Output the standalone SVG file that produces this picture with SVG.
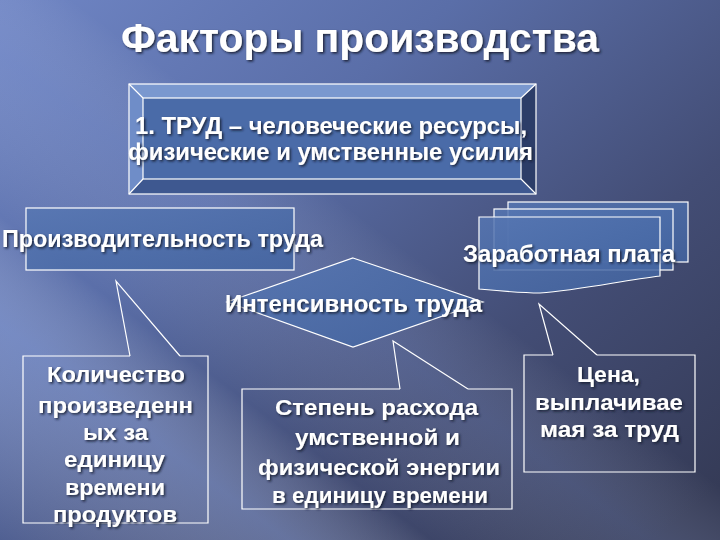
<svg xmlns="http://www.w3.org/2000/svg" width="720" height="540" viewBox="0 0 720 540">
<defs>
<linearGradient id="bg" x1="0" y1="0" x2="1" y2="0.9">
<stop offset="0" stop-color="#6f85c4"/>
<stop offset="0.35" stop-color="#5a6ea8"/>
<stop offset="0.7" stop-color="#434d75"/>
<stop offset="1" stop-color="#353b57"/>
</linearGradient>
<linearGradient id="streak" x1="0" y1="1" x2="1" y2="0">
<stop offset="0" stop-color="#ffffff" stop-opacity="0"/>
<stop offset="0.2" stop-color="#a8bdf0" stop-opacity="0.35"/>
<stop offset="0.3" stop-color="#ffffff" stop-opacity="0"/>
<stop offset="0.45" stop-color="#9fb3e8" stop-opacity="0.18"/>
<stop offset="0.55" stop-color="#ffffff" stop-opacity="0"/>
</linearGradient>
<linearGradient id="boxfill" x1="0" y1="0" x2="1" y2="1">
<stop offset="0" stop-color="#5676b2"/>
<stop offset="1" stop-color="#4264a0"/>
</linearGradient>
<filter id="sh" x="-5%" y="-20%" width="110%" height="140%">
<feDropShadow dx="1.5" dy="1.5" stdDeviation="0.8" flood-color="#141a30" flood-opacity="0.9"/>
</filter>
<style>
.t{font-family:"Liberation Sans",Arial,sans-serif;font-weight:bold;fill:#ffffff;text-anchor:middle;filter:url(#sh)}
.c{font-size:21.5px}
.ln{fill:none;stroke:#ffffff;stroke-width:1.2}
.bx{fill:url(#boxfill);fill-opacity:0.85;stroke:#ffffff;stroke-width:1.2}
</style>
</defs>
<rect width="720" height="540" fill="url(#bg)"/>
<rect width="720" height="540" fill="url(#streak)"/>

<text class="t" x="360" y="52" font-size="41" textLength="478" lengthAdjust="spacingAndGlyphs">Факторы производства</text>

<g id="node-trud">
<polygon points="129,84 536,84 521,98 143,98" fill="#7a98cf"/>
<polygon points="129,84 143,98 143,179 129,194" fill="#6f8dc8"/>
<polygon points="536,84 536,194 521,179 521,98" fill="#2c3d68"/>
<polygon points="129,194 143,179 521,179 536,194" fill="#3e5890"/>
<rect x="143" y="98" width="378" height="81" fill="#4a6ba8"/>
<rect class="ln" x="129" y="84" width="407" height="110"/>
<rect class="ln" x="143" y="98" width="378" height="81"/>
<path class="ln" d="M129,84 L143,98 M536,84 L521,98 M129,194 L143,179 M536,194 L521,179" stroke-width="0.8"/>
<text class="t" x="331" y="134" font-size="23" textLength="392" lengthAdjust="spacingAndGlyphs">1. ТРУД – человеческие ресурсы,</text>
<text class="t" x="330.5" y="160" font-size="23" textLength="405" lengthAdjust="spacingAndGlyphs">физические и умственные усилия</text>
</g>

<g id="node-productivity">
<rect class="bx" x="26" y="208" width="268" height="62"/>
<text class="t" x="162.5" y="247" font-size="23.5" textLength="321" lengthAdjust="spacingAndGlyphs">Производительность труда</text>
</g>

<g id="node-wage">
<rect class="bx" x="508" y="202" width="180" height="60"/>
<rect class="bx" x="494" y="209" width="179" height="61"/>
<path class="bx" d="M479,217 H660 V276 C620,281 580,290 540,293 C520,293 500,291 479,289 Z"/>
<text class="t" x="569" y="262" font-size="23.5" textLength="212" lengthAdjust="spacingAndGlyphs">Заработная плата</text>
</g>

<g id="node-intensity">
<polygon class="bx" points="353,258 483,302 353,347 227,302"/>
<text class="t" x="353.5" y="312" font-size="23.5" textLength="257" lengthAdjust="spacingAndGlyphs">Интенсивность труда</text>
</g>

<g id="connectors">
<polyline class="ln" points="130,356 116,281 180,356"/>
<polyline class="ln" points="400,389 393,341 468,389"/>
<polyline class="ln" points="553,355 539,304 597,355"/>
</g>

<g id="node-quantity">
<path class="ln" d="M130,356 H23 V523 H208 V356 H180"/>
<text class="t c" x="116" y="382" textLength="138" lengthAdjust="spacingAndGlyphs">Количество</text>
<text class="t c" x="115.5" y="413" textLength="155" lengthAdjust="spacingAndGlyphs">произведенн</text>
<text class="t c" x="115.5" y="440" textLength="65" lengthAdjust="spacingAndGlyphs">ых за</text>
<text class="t c" x="114.5" y="467" textLength="101" lengthAdjust="spacingAndGlyphs">единицу</text>
<text class="t c" x="115" y="495" textLength="100" lengthAdjust="spacingAndGlyphs">времени</text>
<text class="t c" x="115" y="522" textLength="124" lengthAdjust="spacingAndGlyphs">продуктов</text>
</g>

<g id="node-energy">
<path class="ln" d="M400,389 H242 V509 H512 V389 H468"/>
<text class="t c" x="376.5" y="415" textLength="203" lengthAdjust="spacingAndGlyphs">Степень расхода</text>
<text class="t c" x="377.5" y="445" textLength="165" lengthAdjust="spacingAndGlyphs">умственной и</text>
<text class="t c" x="379" y="475" textLength="242" lengthAdjust="spacingAndGlyphs">физической энергии</text>
<text class="t c" x="380" y="503" textLength="216" lengthAdjust="spacingAndGlyphs">в единицу времени</text>
</g>

<g id="node-price">
<path class="ln" d="M553,355 H524 V472 H695 V355 H597"/>
<text class="t c" x="608.5" y="382" textLength="63" lengthAdjust="spacingAndGlyphs">Цена,</text>
<text class="t c" x="609" y="410" textLength="148" lengthAdjust="spacingAndGlyphs">выплачивае</text>
<text class="t c" x="609.5" y="437" textLength="139" lengthAdjust="spacingAndGlyphs">мая за труд</text>
</g>
</svg>
